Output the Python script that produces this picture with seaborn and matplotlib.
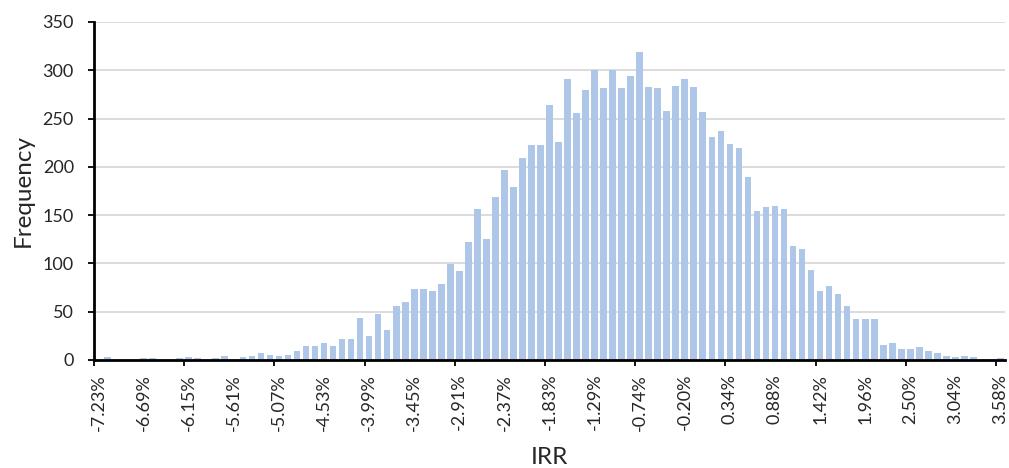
import numpy as np
import pandas as pd
import seaborn as sns
from matplotlib import pyplot as plt

# histogram of simulated IRR, 101 bins of ~0.108%
bin_start = -7.2311
bin_step = 0.10814
counts = [0, 3, 0, 0, 0, 2, 2, 0, 0, 2,
          3, 2, 0, 2, 4, 0, 3, 4, 7, 5,
          4, 5, 9, 15, 15, 18, 14, 22, 22, 43,
          25, 48, 31, 56, 60, 73, 74, 71, 79, 99,
          92, 122, 156, 125, 169, 197, 179, 209, 223, 223,
          264, 226, 291, 256, 280, 300, 282, 300, 282, 294,
          319, 283, 282, 258, 284, 291, 283, 257, 231, 237,
          224, 220, 190, 154, 158, 159, 156, 118, 115, 93,
          71, 77, 68, 56, 42, 42, 42, 16, 18, 11,
          11, 13, 9, 7, 4, 3, 4, 3, 0, 0,
          2]
tick_labels = ['-7.23%', '-6.69%', '-6.15%', '-5.61%', '-5.07%', '-4.53%', '-3.99%',
               '-3.45%', '-2.91%', '-2.37%', '-1.83%', '-1.29%', '-0.74%', '-0.20%',
               '0.34%', '0.88%', '1.42%', '1.96%', '2.50%', '3.04%', '3.58%']

bins = ['%.2f%%' % (bin_start + bin_step * i) for i in range(len(counts))]
df = pd.DataFrame({'IRR': bins, 'Frequency': counts})

sns.set_style('white')
plt.rcParams['font.family'] = ['Lato', 'DejaVu Sans']

fig, ax = plt.subplots(figsize=(10.09, 4.68), dpi=100)
fig.subplots_adjust(left=0.0932, right=0.996, top=0.953, bottom=0.2308)

sns.barplot(data=df, x='IRR', y='Frequency', order=bins, color='#aec7e8',
            saturation=1, width=0.74, edgecolor='none', ax=ax, zorder=2)

ax.set_xlim(-0.5, len(counts) - 0.5)
ax.set_ylim(0, 350)
ax.set_yticks(range(0, 351, 50))
ax.yaxis.grid(True, color='#d9d9d9', linewidth=1.3, zorder=0)
ax.set_axisbelow(True)

ax.set_xticks(range(0, len(counts), 5))
ax.set_xticklabels(tick_labels, rotation=90)
ax.set_xticks(np.arange(-0.5, len(counts), 10), minor=True)
ax.tick_params(axis='x', which='major', length=0, pad=10, labelsize=13)
ax.tick_params(axis='x', which='minor', length=4.5, width=1.3, direction='out',
               color='black', bottom=True)
ax.tick_params(axis='y', length=4.5, width=1.3, direction='out', color='black',
               left=True, pad=10, labelsize=13)

for side in ['top', 'right']:
    ax.spines[side].set_visible(False)
for side in ['left', 'bottom']:
    ax.spines[side].set_color('black')
    ax.spines[side].set_linewidth(2)

ax.set_xlabel('IRR', fontsize=17.5, labelpad=12)
ax.set_ylabel('Frequency', fontsize=17.5, labelpad=6)

plt.savefig('out.png', dpi=100)
